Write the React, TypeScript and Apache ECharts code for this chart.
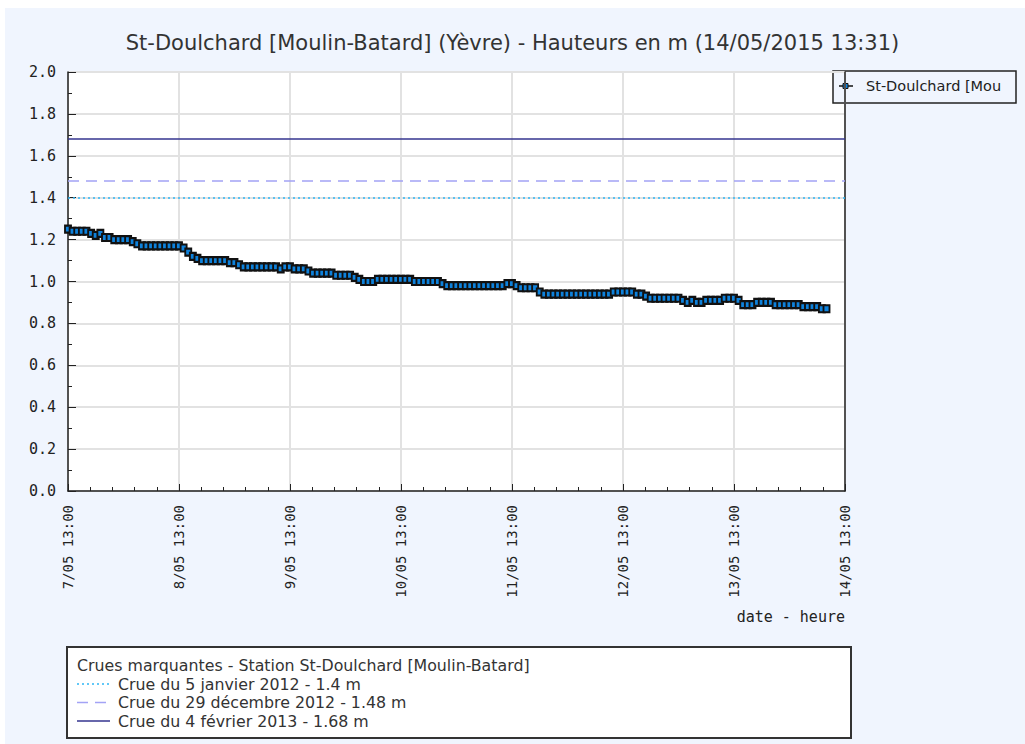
import React, { useEffect, useRef } from "react";
import * as echarts from "echarts";

const TITLE = "St-Doulchard [Moulin-Batard] (Yèvre) - Hauteurs en m (14/05/2015 13:31)";
const SERIES_NAME = "St-Doulchard [Moulin-Batard]";
const LEGEND_SHORT = "St-Doulchard [Mou";

const dayLabels = [
  "7/05 13:00",
  "8/05 13:00",
  "9/05 13:00",
  "10/05 13:00",
  "11/05 13:00",
  "12/05 13:00",
  "13/05 13:00",
  "14/05 13:00",
];

// hourly water heights (m), starting 7/05 13:00
const heights = [
  1.25, 1.24, 1.24, 1.24, 1.24, 1.23, 1.22, 1.23, 1.21, 1.21, 1.2, 1.2,
  1.2, 1.2, 1.19, 1.18, 1.17, 1.17, 1.17, 1.17, 1.17, 1.17, 1.17, 1.17,
  1.17, 1.16, 1.14, 1.12, 1.11, 1.1, 1.1, 1.1, 1.1, 1.1, 1.1, 1.09,
  1.09, 1.08, 1.07, 1.07, 1.07, 1.07, 1.07, 1.07, 1.07, 1.07, 1.06, 1.07,
  1.07, 1.06, 1.06, 1.06, 1.05, 1.04, 1.04, 1.04, 1.04, 1.04, 1.03, 1.03,
  1.03, 1.03, 1.02, 1.01, 1.0, 1.0, 1.0, 1.01, 1.01, 1.01, 1.01, 1.01,
  1.01, 1.01, 1.01, 1.0, 1.0, 1.0, 1.0, 1.0, 1.0, 0.99, 0.98, 0.98,
  0.98, 0.98, 0.98, 0.98, 0.98, 0.98, 0.98, 0.98, 0.98, 0.98, 0.98, 0.99,
  0.99, 0.98, 0.97, 0.97, 0.97, 0.97, 0.95, 0.94, 0.94, 0.94, 0.94, 0.94,
  0.94, 0.94, 0.94, 0.94, 0.94, 0.94, 0.94, 0.94, 0.94, 0.94, 0.95, 0.95,
  0.95, 0.95, 0.95, 0.94, 0.94, 0.93, 0.92, 0.92, 0.92, 0.92, 0.92, 0.92,
  0.92, 0.91, 0.9, 0.91, 0.9, 0.9, 0.91, 0.91, 0.91, 0.91, 0.92, 0.92,
  0.92, 0.91, 0.89, 0.89, 0.89, 0.9, 0.9, 0.9, 0.9, 0.89, 0.89, 0.89,
  0.89, 0.89, 0.89, 0.88, 0.88, 0.88, 0.88, 0.87, 0.87,
];

const floodTitle = "Crues marquantes - Station St-Doulchard [Moulin-Batard]";
const floodLabels = [
  "Crue du 5 janvier 2012 - 1.4 m",
  "Crue du 29 décembre 2012 - 1.48 m",
  "Crue du 4 février 2013 - 1.68 m",
];
const floodValues = [1.4, 1.48, 1.68];
const floodColors = ["#2fb6f5", "#a3a3f5", "#35358f"];
const floodTypes: any[] = [[2, 3], [11, 7], "solid"];

const yTicks = [0, 0.2, 0.4, 0.6, 0.8, 1.0, 1.2, 1.4, 1.6, 1.8, 2.0];

export default function App() {
  const ref = useRef<HTMLDivElement>(null);
  useEffect(() => {
    if (!ref.current) return;
    const chart = echarts.init(ref.current, null, { renderer: "svg" });
    const mono = "DejaVu Sans Mono";
    const sans = "DejaVu Sans";
    const data = heights.map((v, i) => [i, v]);

    const legendY0 = 665;
    const legendGraphics: any[] = [
      {
        type: "rect",
        shape: { x: 67, y: 647, width: 784, height: 91 },
        style: { fill: "#ffffff", stroke: "#333", lineWidth: 2 },
      },
      {
        type: "text",
        x: 77,
        y: legendY0,
        style: { text: floodTitle, fill: "#333", fontSize: 15.8, fontFamily: sans, verticalAlign: "middle" },
      },
    ];
    floodLabels.forEach((lab, i) => {
      const yy = 684 + i * 18.5;
      legendGraphics.push({
        type: "line",
        shape: { x1: 77, y1: yy, x2: 110, y2: yy },
        style: { stroke: floodColors[i], lineWidth: 1.5, lineDash: floodTypes[i] === "solid" ? null : floodTypes[i] },
      });
      legendGraphics.push({
        type: "text",
        x: 118,
        y: yy,
        style: { text: lab, fill: "#333", fontSize: 15.8, fontFamily: sans, verticalAlign: "middle" },
      });
    });

    const option: any = {
      animation: false,
      backgroundColor: "#ffffff",
      title: {
        text: TITLE,
        left: "center",
        top: 27,
        textStyle: { fontFamily: sans, fontSize: 21, fontWeight: "normal", color: "#333" },
      },
      grid: {
        left: 68,
        top: 72,
        right: 180,
        bottom: 253,
        show: true,
        backgroundColor: "#ffffff",
        borderWidth: 0,
      },
      xAxis: {
        type: "value",
        min: 0,
        max: 168,
        interval: 24,
        axisLine: { show: true, onZero: false, lineStyle: { color: "#222", width: 1.5 } },
        axisTick: { show: true, inside: true, length: 7, lineStyle: { color: "#222" } },
        minorTick: { show: true, splitNumber: 5, length: 4, lineStyle: { color: "#222" } },
        splitLine: { show: true, lineStyle: { color: "#e2e2e2", width: 2 } },
        axisLabel: {
          rotate: 90,
          margin: 14,
          fontFamily: mono,
          fontSize: 14,
          color: "#222",
          formatter: (v: number) => dayLabels[Math.round(v / 24)] ?? "",
        },
      },
      yAxis: [
        {
          type: "value",
          min: 0,
          max: 2,
          interval: 0.2,
          axisLine: { show: true, onZero: false, lineStyle: { color: "#222", width: 1.5 } },
          axisTick: { show: true, inside: true, length: 8, lineStyle: { color: "#222" } },
          minorTick: { show: true, splitNumber: 2, length: 4, lineStyle: { color: "#222" } },
          splitLine: { show: true, lineStyle: { color: "#e2e2e2", width: 2 } },
          axisLabel: {
            margin: 12,
            fontFamily: mono,
            fontSize: 15,
            color: "#222",
            formatter: (v: number) => {
              const t = yTicks.find((x) => Math.abs(x - v) < 1e-6);
              return (t ?? v).toFixed(1);
            },
          },
        },
        {
          type: "value",
          position: "right",
          min: 0,
          max: 2,
          interval: 0.2,
          axisLine: { show: true, onZero: false, lineStyle: { color: "#222", width: 1.5 } },
          axisTick: { show: false },
          axisLabel: { show: false },
          splitLine: { show: false },
        },
      ],
      series: [
        {
          name: SERIES_NAME,
          type: "line",
          data,
          symbol: "rect",
          symbolSize: [6, 7],
          itemStyle: { color: "#0e82dc", borderColor: "#111", borderWidth: 2 },
          lineStyle: { color: "#111", width: 2 },
          z: 5,
          markLine: {
            silent: true,
            symbol: "none",
            label: { show: false },
            data: floodValues.map((v, i) => ({
              yAxis: v,
              lineStyle: { color: floodColors[i], width: 1.5, type: floodTypes[i] },
            })),
          },
        },
      ],
      graphic: [
        {
          type: "rect",
          z: -10,
          shape: { x: 5, y: 8, width: 1020, height: 736 },
          style: { fill: "#f0f5fe" },
        },
        {
          type: "text",
          x: 845,
          y: 617,
          style: { text: "date - heure", fill: "#222", fontSize: 15, fontFamily: mono, align: "right", verticalAlign: "middle" },
        },
        {
          type: "rect",
          shape: { x: 833, y: 71, width: 183, height: 32 },
          style: { fill: "#f0f5fe", stroke: "#222", lineWidth: 1.5 },
        },
        {
          type: "line",
          shape: { x1: 839, y1: 86, x2: 853, y2: 86 },
          style: { stroke: "#111", lineWidth: 1.5 },
        },
        {
          type: "rect",
          shape: { x: 843, y: 83.5, width: 5, height: 5 },
          style: { fill: "#0e82dc", stroke: "#111", lineWidth: 1 },
        },
        {
          type: "text",
          x: 866,
          y: 86,
          style: { text: LEGEND_SHORT, fill: "#222", fontSize: 14.5, fontFamily: sans, verticalAlign: "middle" },
        },
        ...legendGraphics,
      ],
    };
    chart.setOption(option);
    return () => chart.dispose();
  }, []);
  return (
    <div
      ref={ref}
      style={{ position: "fixed", left: 0, top: 0, width: 1025, height: 744 }}
    />
  );
}
